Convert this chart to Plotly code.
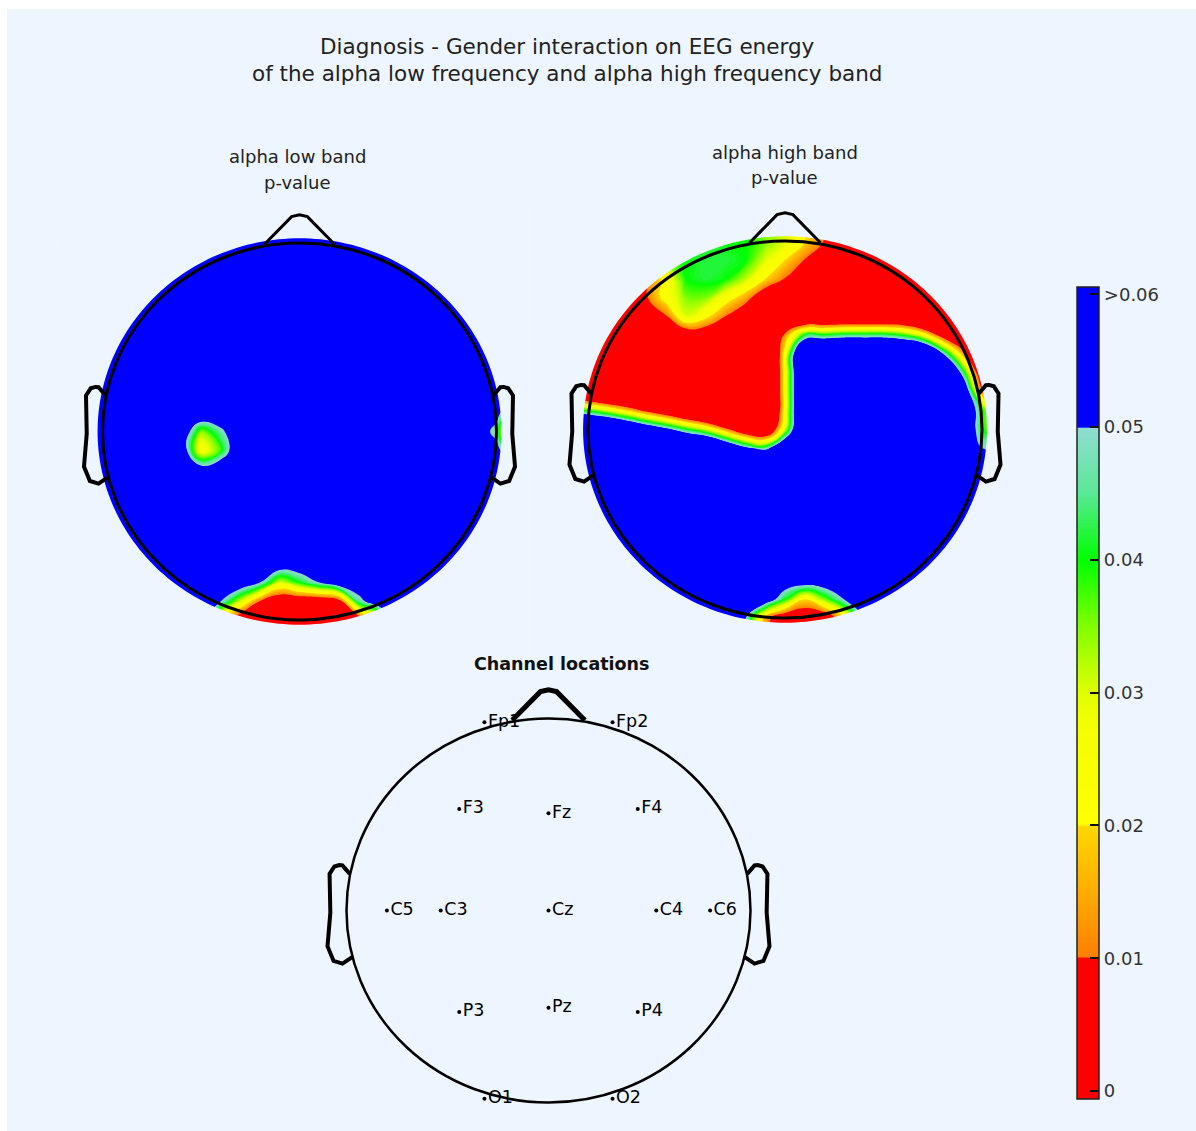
import numpy as np
import plotly.graph_objects as go

# ------------------------------------------------------------------ data
title_lines = ["Diagnosis - Gender interaction on EEG energy",
               "of the alpha low frequency and alpha high frequency band"]
map_titles = [["alpha low band", "p-value"], ["alpha high band", "p-value"]]
channel_title = "Channel locations"

# channel locations (EEGLAB polar convention: theta in degrees, radius 0.5 = head edge)
channel_labels = ["Fp1", "Fp2", "F3", "Fz", "F4", "C5", "C3", "Cz", "C4", "C6",
                  "P3", "Pz", "P4", "O1", "O2"]
channel_theta = [-17.93, 17.93, -39.9, 0.0, 39.9, -90.0, -90.0, 0.0, 90.0, 90.0,
                 -140.1, 180.0, 140.1, -162.07, 162.07]
channel_radius = [0.515, 0.515, 0.3445, 0.2534, 0.3445, 0.40, 0.2667, 0.0, 0.2667, 0.40,
                  0.3445, 0.2534, 0.3445, 0.515, 0.515]

colorbar_tickvals = [0.0, 0.01, 0.02, 0.03, 0.04, 0.05, 0.06]
colorbar_ticktext = ["0", "0.01", "0.02", "0.03", "0.04", "0.05", ">0.06"]

# p-values (x100) on a 23 x 23 grid,
# rows from the front of the head (top) to the back (bottom), columns left -> right
alpha_low_p100 = [
    [6, 6, 6, 6, 6, 6, 6, 6, 6, 6, 6, 6, 6, 6, 6, 6, 6, 6, 6, 6, 6, 6, 6],
    [6, 6, 6, 6, 6, 6, 6, 6, 6, 6, 6, 6, 6, 6, 6, 6, 6, 6, 6, 6, 6, 6, 6],
    [6, 6, 6, 6, 6, 6, 6, 6, 6, 6, 6, 6, 6, 6, 6, 6, 6, 6, 6, 6, 6, 6, 6],
    [6, 6, 6, 6, 6, 6, 6, 6, 6, 6, 6, 6, 6, 6, 6, 6, 6, 6, 6, 6, 6, 6, 6],
    [6, 6, 6, 6, 6, 6, 6, 6, 6, 6, 6, 6, 6, 6, 6, 6, 6, 6, 6, 6, 6, 6, 6],
    [6, 6, 6, 6, 6, 6, 6, 6, 6, 6, 6, 6, 6, 6, 6, 6, 6, 6, 6, 6, 6, 6, 6],
    [6, 6, 6, 6, 6, 6, 6, 6, 6, 6, 6, 6, 6, 6, 6, 6, 6, 6, 6, 6, 6, 6, 6],
    [6, 6, 6, 6, 6, 6, 6, 6, 6, 6, 6, 6, 6, 6, 6, 6, 6, 6, 6, 6, 6, 6, 6],
    [6, 6, 6, 6, 6, 6, 6, 6, 6, 6, 6, 6, 6, 6, 6, 6, 6, 6, 6, 6, 6, 6, 6],
    [6, 6, 6, 6, 6, 6, 6, 6, 6, 6, 6, 6, 6, 6, 6, 6, 6, 6, 6, 6, 6, 6, 6],
    [6, 6, 6, 6, 6, 6, 6.5, 6.5, 6, 6, 6, 6, 6, 6, 6, 6, 6, 6, 6, 6, 6, 5.5, 3],
    [6, 6, 6, 6, 6, 6.2, 3.4, 4.6, 6.5, 6, 6, 6, 6, 6, 6, 6, 6, 6, 6, 6, 6, 4.5, 0],
    [6, 6, 6, 6, 6, 6, 2.4, 3.8, 6.5, 6, 6, 6, 6, 6, 6, 6, 6, 6, 6, 6, 6, 5.5, 3],
    [6, 6, 6, 6, 6, 6, 5.6, 6.2, 6, 6, 6, 6, 6, 6, 6, 6, 6, 6, 6, 6, 6, 6, 6],
    [6, 6, 6, 6, 6, 6, 6, 6, 6, 6, 6, 6, 6, 6, 6, 6, 6, 6, 6, 6, 6, 6, 6],
    [6, 6, 6, 6, 6, 6, 6, 6, 6, 6, 6, 6, 6, 6, 6, 6, 6, 6, 6, 6, 6, 6, 6],
    [6, 6, 6, 6, 6, 6, 6, 6, 6, 6, 6, 6, 6, 6, 6, 6, 6, 6, 6, 6, 6, 6, 6],
    [6, 6, 6, 6, 6, 6, 6, 6, 6, 6, 6, 6, 6, 6, 6, 6, 6, 6, 6, 6, 6, 6, 6],
    [6, 6, 6, 6, 6, 6, 6, 6, 6, 6, 6, 6, 6, 6, 6, 6, 6, 6, 6, 6, 6, 6, 6],
    [6, 6, 6, 6, 6, 6, 6, 6, 6, 5, 3, 4, 5, 6, 6, 6, 6, 6, 6, 6, 6, 6, 6],
    [6, 6, 6, 6, 6, 6, 6, 5, 3, 1, 0, 0, 0, 0.5, 4.5, 6, 6, 6, 6, 6, 6, 6, 6],
    [6, 6, 6, 6, 6, 6, 6, 2, 0, 0, 0, 0, 0, 0, 0, 2, 6, 6, 6, 6, 6, 6, 6],
    [6, 6, 6, 6, 6, 6, 6, 3, 0, 0, 0, 0, 0, 0, 0, 3, 6, 6, 6, 6, 6, 6, 6],
]

alpha_high_p100 = [
    [0, 0, 0, 1, 2, 3, 3.5, 4, 4, 4, 3.5, 3, 2, 1, 0, 0, 0, 0, 0, 0, 0, 0, 0],
    [0, 0, 0, 1, 2, 3, 3.5, 4, 4, 4, 3.5, 3, 2, 1, 0, 0, 0, 0, 0, 0, 0, 0, 0],
    [0, 0, 0, 0, 2, 3.5, 4, 4.2, 4.2, 4, 3, 2, 1, 0, 0, 0, 0, 0, 0, 0, 0, 0, 0],
    [0, 0, 0, 0, 1, 2.5, 4, 4.2, 4, 3.2, 2, 1, 0, 0, 0, 0, 0, 0, 0, 0, 0, 0, 0],
    [0, 0, 0, 0, 1, 2.5, 3.5, 3.5, 2.5, 1.5, 0, 0, 0, 0, 0, 0, 0, 0, 0, 0, 0, 0, 0],
    [0, 0, 0, 0, 0, 1, 3, 2.2, 1, 0, 0, -1.5, -1.5, -1.5, -1.5, -1.5, -1.5, -1.5, -2.7, 0, 0, 0, 0],
    [0, 0, 0, 0, 0, 0, 0, 0, 0, 0, -1.5, 1.3, 4.1, 4.1, 4.4, 4.4, 4.4, 3.9, 2.7, 0.4, -1.1, -3, -3],
    [0, 0, 0, 0, 0, 0, 0, 0, 0, 0, -3, 2.4, 8.1, 9, 9, 9, 9, 9, 8.2, 5.1, 1.7, -3, -3],
    [0, 0, 0, 0, 0, 0, 0, 0, 0, 0, -3, 2.4, 8.1, 9, 9, 9, 9, 9, 9, 9, 4.6, -0.4, -3],
    [-1, -1.9, -2.7, -3, -3, -3, -3, -3, -3, -3, -3, 2.4, 8.1, 9, 9, 9, 9, 9, 9, 9, 6.8, 1.3, -1],
    [4.7, 3.9, 3, 1.9, 0.7, -0.4, -1.6, -2.7, -3, -3, -3, 2.4, 8.1, 9, 9, 9, 9, 9, 9, 9, 7, 4, 2],
    [9, 9, 8.7, 7.6, 6.4, 5.3, 4.1, 3, 1.3, -0.4, -1, 3, 8.1, 9, 9, 9, 9, 9, 9, 9, 7, 4, 3],
    [9, 9, 9, 9, 9, 9, 9, 8.7, 7, 5.3, 4.5, 7.1, 9, 9, 9, 9, 9, 9, 9, 9, 8, 5, 5],
    [9, 9, 9, 9, 9, 9, 9, 9, 9, 9, 9, 9, 9, 9, 9, 9, 9, 9, 9, 9, 9, 9, 9],
    [6, 6, 6, 6, 6, 6, 6, 6, 6, 6, 6, 6, 6, 6, 6, 6, 6, 6, 6, 6, 6, 6, 6],
    [6, 6, 6, 6, 6, 6, 6, 6, 6, 6, 6, 6, 6, 6, 6, 6, 6, 6, 6, 6, 6, 6, 6],
    [6, 6, 6, 6, 6, 6, 6, 6, 6, 6, 6, 6, 6, 6, 6, 6, 6, 6, 6, 6, 6, 6, 6],
    [6, 6, 6, 6, 6, 6, 6, 6, 6, 6, 6, 6, 6, 6, 6, 6, 6, 6, 6, 6, 6, 6, 6],
    [6, 6, 6, 6, 6, 6, 6, 6, 6, 6, 6, 6, 6, 6, 6, 6, 6, 6, 6, 6, 6, 6, 6],
    [6, 6, 6, 6, 6, 6, 6, 6, 6, 6, 6, 6, 6, 6, 6, 6, 6, 6, 6, 6, 6, 6, 6],
    [6, 6, 6, 6, 6, 6, 6, 6, 6, 6, 6, 4, 2, 3.5, 5, 6, 6, 6, 6, 6, 6, 6, 6],
    [6, 6, 6, 6, 6, 6, 6, 6, 6, 5, 1.5, 0, 0, 0, 2, 5, 6, 6, 6, 6, 6, 6, 6],
    [6, 6, 6, 6, 6, 6, 6, 6, 6, 5, 1.5, 0, 0, 0, 2, 5, 6, 6, 6, 6, 6, 6, 6],
]

# ------------------------------------------------------------------ styling / geometry
W, H = 1196, 1131
BG = "rgb(237,245,255)"
FONT = "DejaVu Sans, Liberation Sans, Arial, sans-serif"
ZMIN, ZMAX = -0.0006, 0.06055
CB_X0, CB_TOP, CB_LEN, CB_THICK = 1077, 287, 812, 22


def nrm(v):
    return (v - ZMIN) / (ZMAX - ZMIN)


colorscale = [
    [0.0, "#ff0000"],
    [nrm(0.01), "#ff0000"],
    [nrm(0.0101), "#ff7f00"],
    [nrm(0.015), "#ffac00"],
    [nrm(0.0199), "#ffd800"],
    [nrm(0.0201), "#ffff00"],
    [nrm(0.028), "#f2ff00"],
    [nrm(0.03), "#e0ff00"],
    [nrm(0.035), "#80ff00"],
    [nrm(0.04), "#00ff00"],
    [nrm(0.045), "#5ae896"],
    [nrm(0.0499), "#90dcd2"],
    [nrm(0.05), "#0000ff"],
    [1.0, "#0000ff"],
]

# head geometry (head radius = 1)
nose_x = [0.18, 0.04, 0.0, -0.04, -0.18]
nose_y = [0.9908, 1.14, 1.15, 1.14, 0.9908]
ear_x = [0.984, 1.02, 1.036, 1.0598, 1.0838, 1.08, 1.094, 1.064, 1.02, 0.968]
ear_y = [0.191, 0.235, 0.2366, 0.2292, 0.191, -0.011, -0.1864, -0.2626, -0.2768, -0.2398]


def poly_path(xs, ys, close=False):
    s = "M " + " L ".join(f"{x:.4f},{y:.4f}" for x, y in zip(xs, ys))
    return s + (" Z" if close else "")


def dom_x(cx, rx, lo, hi):
    return [(cx + lo * rx) / W, (cx + hi * rx) / W]


def dom_y(cy, ry, lo, hi):
    return [1 - (cy - lo * ry) / H, 1 - (cy - hi * ry) / H]


fig = go.Figure()
shapes = []

# background panel (white strip at top and left like the exported figure)
shapes.append(dict(type="rect", xref="paper", yref="paper", x0=7 / W, x1=1, y0=0, y1=1 - 9 / H,
                   fillcolor=BG, line=dict(width=0), layer="below"))

grid = np.round(np.linspace(-1.1, 1.1, 23), 3)

topos = [
    dict(data=alpha_low_p100, cx=299.5, cy=431.5, ax=""),
    dict(data=alpha_high_p100, cx=785.0, cy=429.5, ax="2"),
]
RX, RY = 197.0, 188.5
layout_axes = {}
for t in topos:
    z = np.array(t["data"], dtype=float)[::-1] / 100.0
    fig.add_trace(go.Contour(
        x=grid, y=grid, z=z, zmin=ZMIN, zmax=ZMAX, colorscale=colorscale,
        autocontour=False,
        contours=dict(start=0.0, end=0.06, size=0.0005, coloring="fill", showlines=False),
        line=dict(width=0, smoothing=1.3),
        hoverinfo="skip", showscale=False,
        xaxis="x" + t["ax"], yaxis="y" + t["ax"],
    ))
    xa = "xaxis" + t["ax"]
    ya = "yaxis" + t["ax"]
    layout_axes[xa] = dict(domain=dom_x(t["cx"], RX, -1.25, 1.25), range=[-1.25, 1.25],
                           visible=False, fixedrange=True)
    layout_axes[ya] = dict(domain=dom_y(t["cy"], RY, -1.25, 1.25), range=[-1.25, 1.25],
                           visible=False, fixedrange=True)
    xr, yr = "x" + t["ax"], "y" + t["ax"]
    # mask outside the scalp
    ang = np.linspace(0, 2 * np.pi, 241)
    rm = 1.025
    mask = (poly_path([-1.2, 1.2, 1.2, -1.2], [-1.2, -1.2, 1.2, 1.2], close=True) + " " +
            poly_path(rm * np.cos(ang), rm * np.sin(ang), close=True))
    shapes.append(dict(type="path", xref=xr, yref=yr, path=mask, fillcolor=BG,
                       line=dict(width=0), fillrule="evenodd", layer="above"))
    shapes.append(dict(type="circle", xref=xr, yref=yr, x0=-1, x1=1, y0=-1, y1=1,
                       line=dict(color="black", width=3), layer="above"))
    shapes.append(dict(type="path", xref=xr, yref=yr, path=poly_path(nose_x, nose_y),
                       line=dict(color="black", width=3), layer="above"))
    shapes.append(dict(type="path", xref=xr, yref=yr, path=poly_path(ear_x, ear_y),
                       line=dict(color="black", width=4), layer="above"))
    shapes.append(dict(type="path", xref=xr, yref=yr,
                       path=poly_path([-v for v in ear_x], ear_y),
                       line=dict(color="black", width=4), layer="above"))

# colour scale bar (continuous, shared by both maps)
fig.add_trace(go.Scatter(
    x=[None], y=[None], mode="markers", hoverinfo="skip", showlegend=False,
    xaxis="x3", yaxis="y3",
    marker=dict(color=[0.03], colorscale=colorscale, cmin=ZMIN, cmax=ZMAX, showscale=True,
                colorbar=dict(
                    x=CB_X0 / W, xanchor="left", xpad=0,
                    y=1 - CB_TOP / H, yanchor="top", ypad=0,
                    len=CB_LEN, lenmode="pixels", thickness=CB_THICK, thicknessmode="pixels",
                    outlinewidth=1.5, outlinecolor="#222222",
                    tickmode="array", tickvals=colorbar_tickvals, ticktext=colorbar_ticktext,
                    ticks="inside", ticklen=9, tickwidth=1.5, tickcolor="#111111",
                    tickfont=dict(family=FONT, size=18, color="#333333"),
                    bgcolor="rgba(0,0,0,0)", borderwidth=0,
                )),
))

# channel locations head
CCX, CCY, CRX, CRY = 548.5, 910.5, 202.0, 192.0
layout_axes["xaxis3"] = dict(domain=dom_x(CCX, CRX, -1.25, 1.25), range=[-1.25, 1.25],
                             visible=False, fixedrange=True)
layout_axes["yaxis3"] = dict(domain=dom_y(CCY, CRY, -1.1, 1.25), range=[-1.1, 1.25],
                             visible=False, fixedrange=True)
th = np.deg2rad(np.array(channel_theta))
rr = 2 * np.array(channel_radius)
fig.add_trace(go.Scatter(
    x=rr * np.sin(th), y=rr * np.cos(th), mode="markers+text",
    text=channel_labels, textposition="middle right",
    textfont=dict(family=FONT, size=17.5, color="black"),
    marker=dict(size=4, color="black"), hoverinfo="skip", cliponaxis=False,
    xaxis="x3", yaxis="y3", showlegend=False,
))
shapes.append(dict(type="circle", xref="x3", yref="y3", x0=-1, x1=1, y0=-1, y1=1,
                   line=dict(color="black", width=2.5), layer="above"))
shapes.append(dict(type="path", xref="x3", yref="y3", path=poly_path(nose_x, nose_y),
                   line=dict(color="black", width=5), layer="above"))
shapes.append(dict(type="path", xref="x3", yref="y3", path=poly_path(ear_x, ear_y),
                   line=dict(color="black", width=4), layer="above"))
shapes.append(dict(type="path", xref="x3", yref="y3",
                   path=poly_path([-v for v in ear_x], ear_y),
                   line=dict(color="black", width=4), layer="above"))

# texts
ann = []


def add_text(txt, x, y, size, color="#222222"):
    ann.append(dict(text=txt, x=x / W, y=1 - y / H, xref="paper", yref="paper",
                    xanchor="center", yanchor="middle", showarrow=False,
                    font=dict(family=FONT, size=size, color=color)))


add_text(title_lines[0], 567, 47, 21.5)
add_text(title_lines[1], 567, 74, 21.5)
add_text(map_titles[0][0], 297, 157, 18)
add_text(map_titles[0][1], 297, 182, 18)
add_text(map_titles[1][0], 785, 152, 18)
add_text(map_titles[1][1], 785, 177, 18)
add_text("<b>" + channel_title + "</b>", 561, 664, 17.5, "#111111")

fig.update_layout(
    width=W, height=H, margin=dict(l=0, r=0, t=0, b=0),
    paper_bgcolor="white", plot_bgcolor="rgba(0,0,0,0)",
    showlegend=False, hovermode=False,
    shapes=shapes, annotations=ann,
    **layout_axes,
)

fig.write_html("out.html")
